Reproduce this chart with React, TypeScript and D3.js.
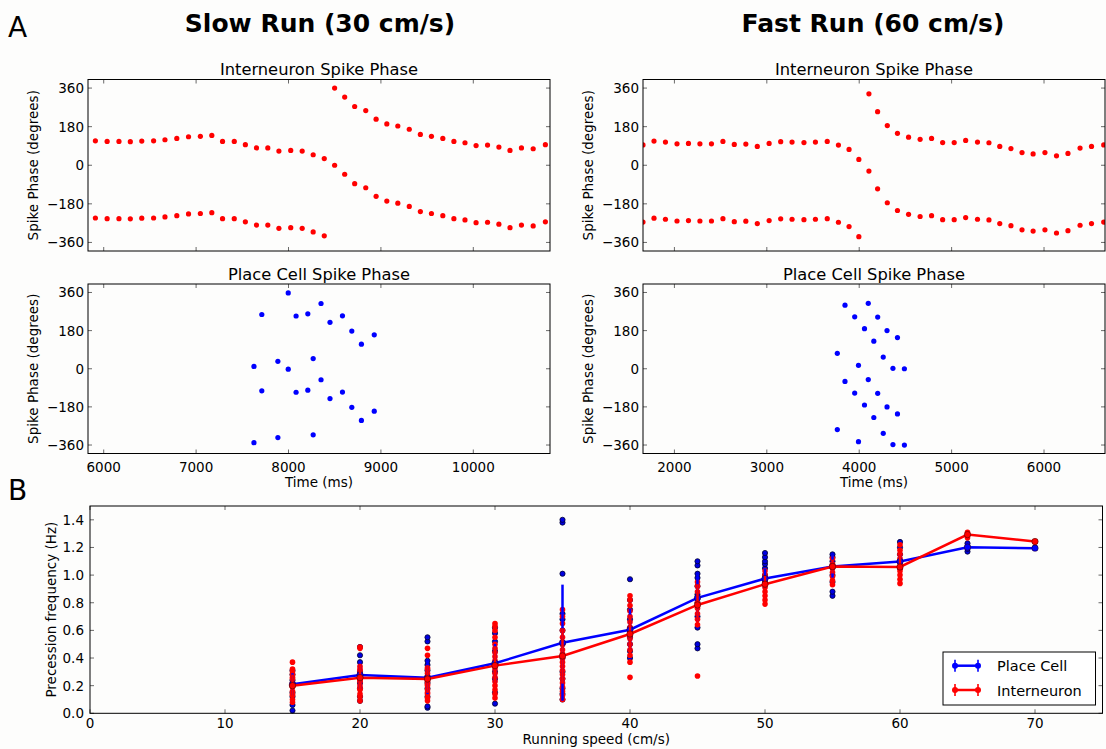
import React from 'react';
import * as d3 from 'd3';

// spike phase panels
const phaseTicks = [-360, -180, 0, 180, 360];
const slowTicks = [6000, 7000, 8000, 9000, 10000];
const fastTicks = [2000, 3000, 4000, 5000, 6000];

const slowInterTimes = [5910, 6037, 6165, 6288, 6412, 6540, 6663, 6791, 6918, 7046, 7170, 7286, 7413, 7533, 7653, 7776, 7896, 8024, 8148, 8267, 8387, 8499, 8608, 8716, 8836, 8948, 9064, 9183, 9307, 9427, 9547, 9670, 9790, 9910, 10030, 10154, 10277, 10397, 10521, 10648, 10780];
const slowInterPhase = [114, 111, 111, 110, 113, 114, 119, 125, 133, 135, 139, 111, 111, 96, 81, 81, 66, 69, 66, 49, 31, 360, 318, 274, 255, 215, 193, 183, 168, 144, 135, 125, 111, 105, 92, 94, 85, 69, 81, 77, 96];

const fastInterTimes = [1660, 1779, 1903, 2028, 2152, 2276, 2401, 2525, 2648, 2773, 2897, 3025, 3150, 3273, 3402, 3526, 3654, 3775, 3890, 3996, 4105, 4199, 4304, 4414, 4534, 4659, 4783, 4903, 5028, 5152, 5280, 5404, 5521, 5642, 5762, 5882, 6010, 6135, 6259, 6390, 6514, 6646];
const fastInterPhase = [95, 113, 108, 100, 102, 100, 100, 111, 97, 99, 88, 102, 110, 108, 106, 108, 111, 94, 74, 27, 333, 250, 185, 149, 131, 121, 125, 106, 106, 116, 108, 105, 88, 78, 59, 53, 59, 44, 55, 80, 88, 95];

const slowPlaceTimes = [7626, 7711, 7885, 7997, 8082, 8209, 8267, 8352, 8449, 8584, 8685, 8789, 8928];
const slowPlacePhase = [11, 256, 35, 358, 249, 259, 48, 308, 219, 250, 178, 116, 160];

const fastPlaceTimes = [3763, 3846, 3951, 3992, 4057, 4098, 4158, 4200, 4260, 4301, 4365, 4414, 4489];
const fastPlacePhase = [73, 300, 245, 16, 189, 309, 130, 244, 55, 180, 2, 147, 0];

// precession frequency vs running speed
const speeds = [15, 20, 25, 30, 35, 40, 45, 50, 55, 60, 65, 70];
const placeMean = [0.21, 0.277, 0.258, 0.362, 0.511, 0.605, 0.835, 0.975, 1.062, 1.098, 1.202, 1.195];
const interMean = [0.2, 0.258, 0.248, 0.345, 0.415, 0.574, 0.784, 0.934, 1.062, 1.059, 1.293, 1.243];
const placeStd = [0.08, 0.1, 0.12, 0.14, 0.42, 0.15, 0.17, 0.07, 0.08, 0.05, 0.02, 0];
const interStd = [0.08, 0.1, 0.1, 0.14, 0.2, 0.14, 0.15, 0.06, 0.05, 0.1, 0.02, 0];
const placeCells = [
  [0.02, 0.06, 0.12, 0.15, 0.2, 0.24, 0.28, 0.31],
  [0.09, 0.12, 0.18, 0.22, 0.26, 0.3, 0.37, 0.42, 0.48],
  [0.04, 0.05, 0.12, 0.18, 0.22, 0.26, 0.31, 0.35, 0.38, 0.52, 0.55],
  [0.07, 0.15, 0.25, 0.3, 0.36, 0.45, 0.52, 0.58, 0.62],
  [0.1, 0.14, 0.18, 0.25, 0.3, 0.4, 0.5, 0.6, 0.68, 0.72, 1.01, 1.38, 1.4],
  [0.4, 0.45, 0.5, 0.55, 0.62, 0.68, 0.75, 0.82, 0.97],
  [0.47, 0.5, 0.62, 0.7, 0.8, 0.86, 0.92, 0.98, 1.01, 1.07, 1.1],
  [0.95, 1.0, 1.05, 1.08, 1.1, 1.13, 1.16],
  [0.85, 0.88, 0.95, 1.0, 1.06, 1.1, 1.13, 1.15],
  [1.05, 1.1, 1.15, 1.2, 1.24],
  [1.17, 1.19, 1.21, 1.23],
  [1.2],
];
const interCells = [
  [0.08, 0.1, 0.13, 0.14, 0.16, 0.19, 0.2, 0.22, 0.25, 0.26, 0.28, 0.3, 0.32, 0.37],
  [0.09, 0.12, 0.14, 0.17, 0.18, 0.2, 0.23, 0.24, 0.26, 0.28, 0.31, 0.32, 0.34, 0.47, 0.48],
  [0.09, 0.11, 0.14, 0.15, 0.17, 0.2, 0.21, 0.23, 0.26, 0.27, 0.29, 0.32, 0.33, 0.42, 0.47],
  [0.11, 0.14, 0.17, 0.2, 0.23, 0.26, 0.29, 0.32, 0.35, 0.38, 0.41, 0.44, 0.47, 0.5, 0.55, 0.6, 0.63, 0.65],
  [0.1, 0.13, 0.16, 0.19, 0.22, 0.25, 0.28, 0.31, 0.34, 0.37, 0.4, 0.43, 0.46, 0.5, 0.55, 0.6, 0.65, 0.7, 0.75],
  [0.26, 0.37, 0.42, 0.46, 0.5, 0.54, 0.58, 0.62, 0.66, 0.7, 0.74, 0.78, 0.82, 0.85],
  [0.27, 0.64, 0.68, 0.72, 0.76, 0.8, 0.84, 0.88, 0.92, 0.95],
  [0.79, 0.82, 0.85, 0.88, 0.91, 0.94, 0.97, 1.0, 1.03],
  [0.93, 0.96, 0.99, 1.02, 1.05, 1.08, 1.12],
  [0.94, 0.97, 1.0, 1.03, 1.06, 1.09, 1.12, 1.15, 1.18, 1.22],
  [1.27, 1.29, 1.31],
  [1.24],
];
const freqTicks = [0, 0.2, 0.4, 0.6, 0.8, 1.0, 1.2, 1.4];
const speedTicks = [0, 10, 20, 30, 40, 50, 60, 70];

const FONT = 'DejaVu Sans';
const fmtMinus = (v: number) => (v < 0 ? '\u2212' + Math.abs(v) : String(v));

function PhasePanel({ id, left, right, top, bottom, xDomain, xTicks, showXLabels, times, phases, color, title }: any) {
  const x = d3.scaleLinear().domain(xDomain).range([left, right]);
  const y = d3.scaleLinear().domain([-400, 400]).range([bottom, top]);
  return (
    <g>
      <defs>
        <clipPath id={id}>
          <rect x={left} y={top} width={right - left} height={bottom - top} />
        </clipPath>
      </defs>
      <text x={(left + right) / 2} y={top - 4.5} fontSize={16.3} textAnchor="middle" fontFamily={FONT}>{title}</text>
      <g clipPath={`url(#${id})`}>
        {times.map((t: number, i: number) => (
          <g key={i}>
            <circle cx={x(t)} cy={y(phases[i])} r={2.6} fill={color} />
            <circle cx={x(t)} cy={y(phases[i] - 360)} r={2.6} fill={color} />
          </g>
        ))}
      </g>
      {phaseTicks.map((v) => (
        <g key={v}>
          <line x1={left} x2={left + 4} y1={y(v)} y2={y(v)} stroke="#444" strokeWidth={0.8} />
          <line x1={right} x2={right - 4} y1={y(v)} y2={y(v)} stroke="#444" strokeWidth={0.8} />
          <text x={left - 4} y={y(v) + 5} fontSize={13.5} textAnchor="end" fontFamily={FONT}>{fmtMinus(v)}</text>
        </g>
      ))}
      {xTicks.map((v: number) => (
        <g key={v}>
          <line x1={x(v)} x2={x(v)} y1={bottom} y2={bottom - 4} stroke="#444" strokeWidth={0.8} />
          <line x1={x(v)} x2={x(v)} y1={top} y2={top + 4} stroke="#444" strokeWidth={0.8} />
          {showXLabels && (
            <text x={x(v)} y={bottom + 18} fontSize={13.5} textAnchor="middle" fontFamily={FONT}>{v}</text>
          )}
        </g>
      ))}
      <rect x={left} y={top} width={right - left} height={bottom - top} fill="none" stroke="#000" strokeWidth={1} />
      <text transform={`translate(${left - 50},${(top + bottom) / 2}) rotate(-90)`} fontSize={13.5} textAnchor="middle" fontFamily={FONT}>Spike Phase (degrees)</text>
      {showXLabels && (
        <text x={(left + right) / 2} y={bottom + 33} fontSize={13.5} textAnchor="middle" fontFamily={FONT}>Time (ms)</text>
      )}
    </g>
  );
}

function SpeedPanel() {
  const left = 90, right = 1102.5, top = 506, bottom = 713.3;
  const x = d3.scaleLinear().domain([0, 75]).range([left, right]);
  const y = d3.scaleLinear().domain([0, 1.5]).range([bottom, top]);
  const line = d3.line<number>().x((_, i) => x(speeds[i])).y((v) => y(v));
  const series = [
    { mean: placeMean, std: placeStd, color: '#0000ff' },
    { mean: interMean, std: interStd, color: '#ff0000' },
  ];
  return (
    <g>
      {placeCells.map((col, i) =>
        col.map((v, j) => (
          <circle key={`p${i}-${j}`} cx={x(speeds[i])} cy={y(v)} r={2.6} fill="#0000e0" stroke="#000030" strokeWidth={0.8} />
        ))
      )}
      {interCells.map((col, i) =>
        col.map((v, j) => (
          <circle key={`n${i}-${j}`} cx={x(speeds[i])} cy={y(v)} r={2.8} fill="#ff0000" />
        ))
      )}
      {series.map((s, k) => (
        <g key={k}>
          {s.mean.map((m, i) => (
            <line key={i} x1={x(speeds[i])} x2={x(speeds[i])} y1={y(m - s.std[i])} y2={y(m + s.std[i])} stroke={s.color} strokeWidth={2.5} />
          ))}
          <path d={line(s.mean) || ''} fill="none" stroke={s.color} strokeWidth={2.5} />
          {s.mean.map((m, i) => (
            <circle key={i} cx={x(speeds[i])} cy={y(m)} r={3.2} fill={s.color} stroke="#300" strokeWidth={0.5} />
          ))}
        </g>
      ))}
      {freqTicks.map((v) => (
        <g key={v}>
          <line x1={left} x2={left + 4} y1={y(v)} y2={y(v)} stroke="#444" strokeWidth={0.8} />
          <line x1={right} x2={right - 4} y1={y(v)} y2={y(v)} stroke="#444" strokeWidth={0.8} />
          <text x={left - 6} y={y(v) + 5} fontSize={13.5} textAnchor="end" fontFamily={FONT}>{v.toFixed(1)}</text>
        </g>
      ))}
      {speedTicks.map((v) => (
        <g key={v}>
          <line x1={x(v)} x2={x(v)} y1={bottom} y2={bottom - 4} stroke="#444" strokeWidth={0.8} />
          <line x1={x(v)} x2={x(v)} y1={top} y2={top + 4} stroke="#444" strokeWidth={0.8} />
          <text x={x(v)} y={bottom + 15} fontSize={13.5} textAnchor="middle" fontFamily={FONT}>{v}</text>
        </g>
      ))}
      <rect x={left} y={top} width={right - left} height={bottom - top} fill="none" stroke="#000" strokeWidth={1} />
      <text transform={`translate(56,${(top + bottom) / 2}) rotate(-90)`} fontSize={13.5} textAnchor="middle" fontFamily={FONT}>Precession frequency (Hz)</text>
      <text x={(left + right) / 2} y={744} fontSize={13.5} textAnchor="middle" fontFamily={FONT}>Running speed (cm/s)</text>
      {/* legend */}
      <rect x={943} y={652} width={152.5} height={53} fill="#fff" stroke="#000" strokeWidth={1} />
      {[
        { label: 'Place Cell', color: '#0000ff', cy: 665.7 },
        { label: 'Interneuron', color: '#ff0000', cy: 690 },
      ].map((e) => (
        <g key={e.label}>
          <line x1={955} x2={978} y1={e.cy} y2={e.cy} stroke={e.color} strokeWidth={2.5} />
          {[955, 978].map((lx) => (
            <g key={lx}>
              <line x1={lx} x2={lx} y1={e.cy - 6} y2={e.cy + 6} stroke={e.color} strokeWidth={2} opacity={0.8} />
              <circle cx={lx} cy={e.cy} r={3} fill={e.color} />
            </g>
          ))}
          <text x={997} y={e.cy + 5.5} fontSize={14.5} fontFamily={FONT}>{e.label}</text>
        </g>
      ))}
    </g>
  );
}

export default function App() {
  return (
    <svg width={1106} height={749} style={{ position: 'absolute', left: 0, top: 0, background: '#fdfdfc' }}>
      <rect x={0} y={0} width={1106} height={749} fill="#fdfdfc" />
      <text x={8} y={37} fontSize={28} fontFamily={FONT}>A</text>
      <text x={8} y={500} fontSize={28} fontFamily={FONT}>B</text>
      <text x={320} y={32} fontSize={25} fontWeight="bold" textAnchor="middle" fontFamily={FONT}>Slow Run (30 cm/s)</text>
      <text x={873} y={32} fontSize={25} fontWeight="bold" textAnchor="middle" fontFamily={FONT}>Fast Run (60 cm/s)</text>
      <PhasePanel id="c1" left={88} right={550} top={79.5} bottom={251} xDomain={[5830, 10830]} xTicks={slowTicks} showXLabels={false}
        times={slowInterTimes} phases={slowInterPhase} color="#ff0000" title="Interneuron Spike Phase" />
      <PhasePanel id="c2" left={643} right={1105} top={79.5} bottom={251} xDomain={[1660, 6660]} xTicks={fastTicks} showXLabels={false}
        times={fastInterTimes} phases={fastInterPhase} color="#ff0000" title="Interneuron Spike Phase" />
      <PhasePanel id="c3" left={88} right={550} top={284} bottom={453.5} xDomain={[5830, 10830]} xTicks={slowTicks} showXLabels={true}
        times={slowPlaceTimes} phases={slowPlacePhase} color="#0000ff" title="Place Cell Spike Phase" />
      <PhasePanel id="c4" left={643} right={1105} top={284} bottom={453.5} xDomain={[1660, 6660]} xTicks={fastTicks} showXLabels={true}
        times={fastPlaceTimes} phases={fastPlacePhase} color="#0000ff" title="Place Cell Spike Phase" />
      <SpeedPanel />
    </svg>
  );
}
